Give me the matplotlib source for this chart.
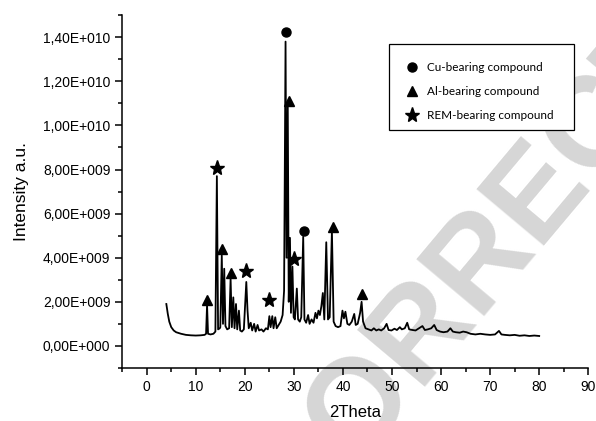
import numpy as np
import matplotlib
matplotlib.use("Agg")
import matplotlib.pyplot as plt
from matplotlib.ticker import MultipleLocator
from matplotlib.patches import Rectangle

# ---------------- data (intensity in units of 1e9) ----------------
two_theta = [4.0, 4.3, 4.6, 5.0, 5.5, 6.0, 7.0, 8.0, 9.0, 10.0, 11.0, 11.8,
             12.1, 12.3, 12.5, 13.0, 13.6, 14.0, 14.3, 14.55, 14.9, 15.0, 15.3, 15.55,
             15.8, 16.05, 16.4, 16.8, 17.1, 17.35, 17.65, 17.9, 18.2, 18.45, 18.8, 19.05,
             19.4, 19.8, 20.3, 20.55, 20.8, 21.2, 21.5, 21.9, 22.2, 22.6, 22.9, 23.4,
             23.8, 24.3, 24.7, 25.0, 25.25, 25.6, 25.85, 26.2, 26.5, 26.9, 27.3, 27.7,
             28.0, 28.3, 28.5, 28.75, 28.95, 29.2, 29.4, 29.7, 29.95, 30.2, 30.6, 30.85,
             31.2, 31.5, 31.9, 32.15, 32.5, 32.9, 33.2, 33.6, 34.0, 34.4, 34.7, 35.0,
             35.3, 35.6, 35.9, 36.2, 36.6, 36.95, 37.3, 37.75, 38.1, 38.5, 39.0, 39.5,
             39.9, 40.2, 40.5, 40.9, 41.3, 41.8, 42.3, 42.6, 43.0, 43.5, 43.8, 44.1,
             44.6, 45.2, 45.8, 46.3, 46.8, 47.3, 47.8, 48.4, 48.9, 49.3, 49.9, 50.5,
             51.0, 51.6, 52.0, 52.6, 53.1, 53.5, 54.2, 54.8, 55.5, 56.2, 56.7, 57.3,
             58.0, 58.6, 59.1, 59.8, 60.5, 61.3, 61.9, 62.4, 63.0, 63.8, 64.5, 65.2,
             66.0, 67.0, 68.0, 69.0, 70.0, 71.0, 71.8, 72.3, 73.0, 74.0, 75.0, 76.0,
             77.0, 78.0, 79.0, 80.0]
intensity_e9 = [1.90, 1.45, 1.10, 0.85, 0.70, 0.62, 0.55, 0.50, 0.48, 0.47, 0.48, 0.50,
                0.55, 1.85, 0.55, 0.52, 0.55, 0.65, 7.70, 0.75, 0.80, 0.85, 4.10, 1.00,
                3.50, 0.90, 0.75, 0.80, 3.05, 0.85, 2.20, 0.80, 1.90, 0.75, 1.60, 0.70,
                0.65, 0.75, 2.90, 1.60, 0.80, 1.05, 0.70, 1.00, 0.65, 0.95, 0.70, 0.75,
                0.65, 0.80, 0.75, 1.35, 0.85, 1.35, 0.80, 1.30, 0.80, 0.95, 1.10, 1.40,
                2.50, 13.80, 4.00, 10.90, 2.00, 4.90, 1.50, 3.60, 1.30, 1.20, 2.60, 1.20,
                1.10, 1.30, 4.95, 1.20, 1.05, 1.40, 1.00, 1.20, 1.05, 1.50, 1.25, 1.60,
                1.40, 1.80, 2.40, 1.20, 4.70, 1.20, 1.30, 5.20, 1.10, 0.90, 0.85, 0.90,
                1.60, 1.25, 1.55, 1.00, 0.95, 1.10, 1.45, 0.95, 1.00, 1.50, 2.00, 1.10,
                0.80, 0.75, 0.70, 0.80, 0.70, 0.75, 0.70, 0.80, 1.00, 0.72, 0.70, 0.78,
                0.72, 0.85, 0.75, 0.80, 1.05, 0.75, 0.72, 0.70, 0.80, 0.90, 0.72, 0.75,
                0.80, 0.95, 0.72, 0.65, 0.62, 0.65, 0.80, 0.65, 0.62, 0.60, 0.65, 0.62,
                0.55, 0.52, 0.55, 0.52, 0.50, 0.52, 0.68, 0.52, 0.50, 0.48, 0.50, 0.46,
                0.48, 0.45, 0.47, 0.45]

cu_theta = [28.3, 32.0]
cu_int_e9 = [14.25, 5.20]
al_theta = [12.2, 15.3, 17.1, 29.1, 37.9, 43.8]
al_int_e9 = [2.10, 4.40, 3.30, 11.10, 5.40, 2.35]
rem_theta = [14.3, 20.3, 24.9, 30.1]
rem_int_e9 = [8.05, 3.40, 2.10, 3.95]

legend_labels = ["Cu-bearing compound", "Al-bearing compound", "REM-bearing compound"]

xtick_values = [0, 10, 20, 30, 40, 50, 60, 70, 80, 90]
ytick_values = [0, 2e9, 4e9, 6e9, 8e9, 1e10, 1.2e10, 1.4e10]
ytick_labels = ["0,00E+000", "2,00E+009", "4,00E+009", "6,00E+009", "8,00E+009",
                "1,00E+010", "1,20E+010", "1,40E+010"]

# ---------------- figure ----------------
plt.rcParams['font.family'] = ['Liberation Sans', 'DejaVu Sans']
fig = plt.figure(figsize=(5.96, 4.21), dpi=100)
ax = fig.add_axes([0.205, 0.126, 0.782, 0.838])
ax.set_facecolor('none')

# watermark
fig.text(0.89, 0.515, "CORRECTED", fontsize=92, fontweight='bold', color='#d6d6d6',
         rotation=50, ha='center', va='center', zorder=-5)

x = np.array(two_theta)
y = np.array(intensity_e9) * 1e9
ax.plot(x, y, color='black', lw=1.3, zorder=3)

ax.plot(cu_theta, np.array(cu_int_e9) * 1e9, 'o', color='black', ms=6.5, zorder=4,
        label=legend_labels[0])
ax.plot(al_theta, np.array(al_int_e9) * 1e9, '^', color='black', ms=7, zorder=4,
        label=legend_labels[1])
ax.plot(rem_theta, np.array(rem_int_e9) * 1e9, '*', color='black', ms=11, zorder=4,
        label=legend_labels[2])

ax.set_xlim(-5, 90)
ax.set_ylim(-1e9, 1.5e10)
ax.set_xticks(xtick_values)
ax.set_xticklabels([str(v) for v in xtick_values])
ax.set_yticks(ytick_values)
ax.set_yticklabels(ytick_labels)
ax.xaxis.set_minor_locator(MultipleLocator(5))
ax.yaxis.set_minor_locator(MultipleLocator(1e9))

for s in ['top', 'right']:
    ax.spines[s].set_visible(False)
for s in ['left', 'bottom']:
    ax.spines[s].set_linewidth(1.1)

ax.tick_params(which='major', direction='out', length=5, width=1.1, labelsize=10)
ax.tick_params(which='minor', direction='out', length=3, width=1.1)

ax.set_xlabel("2Theta", fontsize=12, labelpad=8)
ax.set_ylabel("Intensity a.u.", fontsize=12.5, labelpad=10)

# legend box
fig.patches.append(Rectangle((389 / 596, 1 - 130 / 421), 185 / 596, 86 / 421,
                             transform=fig.transFigure, facecolor='white',
                             edgecolor='black', lw=0.9, zorder=5))
leg = fig.legend(loc='upper left', bbox_to_anchor=(405 / 596, 1 - 62 / 421),
                 frameon=False, prop={'family': ['Lato', 'DejaVu Sans'], 'size': 8.5},
                 borderpad=0, labelspacing=1.1, handletextpad=0.7,
                 handlelength=1.2, borderaxespad=0)
leg.set_zorder(6)

fig.savefig("out.png", dpi=100)
